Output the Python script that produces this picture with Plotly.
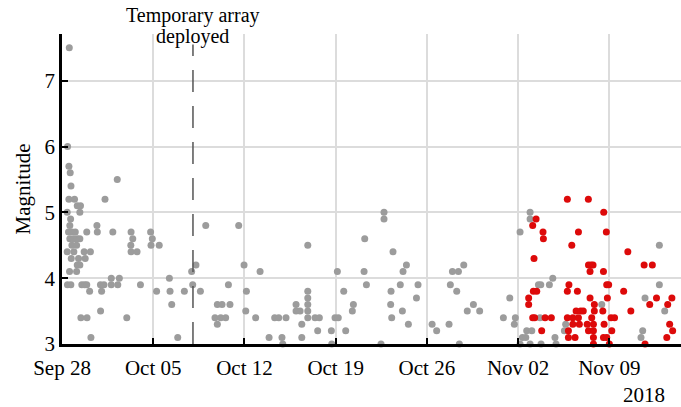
import pandas as pd
import plotly.graph_objects as go

# Day offsets since 2018-09-28 00:00 and magnitudes
base_date = "2018-09-28"
deploy_day = 10.05

gray_days = [
    0.56, 0.43, 0.53, 0.63, 0.69, 4.24,
    0.53, 0.96, 3.3, 1.17, 1.42, 0.4, 1.37, 0.66, 0.6, 2.68,
    0.5, 0.76, 1.02, 1.9, 2.71, 3.9, 5.3, 6.8,
    0.6, 0.91, 1.17, 1.37, 5.43, 6.93,
    0.76, 1.12, 5.28, 6.83, 7.46,
    0.4, 0.91, 1.7, 2.18, 5.3, 5.76,
    0.71, 1.27, 1.78, 1.17, 1.37, 0.58, 1.12, 3.78, 4.4,
    0.42, 0.68, 1.52, 1.73, 1.9, 2.95, 3.22, 3.78, 4.28, 6.02,
    2.12, 3.04, 7.26, 2.96, 1.45, 1.92, 4.97, 2.22,
    8.24, 8.29, 9.39, 8.42, 8.88, 9.95, 10.28, 10.03, 10.62, 11.03,
    13.56, 13.97, 15.2, 12.77, 14.15, 11.92, 12.28, 12.89, 14.1,
    11.74, 12.18, 12.56, 11.92, 14.86, 16.32, 16.63, 17.19,
    15.89, 16.88, 16.94, 17.96, 17.96, 18.27,
    18.86, 18.86, 18.86, 18.86, 18.86, 18.86, 18.4, 18.4,
    19.42, 19.75, 19.62, 20.67, 20.7, 20.95, 21.2, 21.13, 21.62, 21.77,
    22.28, 22.36, 23.23, 23.18, 23.36, 24.48, 24.71, 24.71,
    25.4, 25.25, 25.22, 25.3, 25.96, 26.12, 26.17, 26.43, 26.58,
    27.2, 27.32, 28.4, 28.75, 29.7, 29.8,
    29.96, 30.42, 30.29, 30.83, 30.49, 31.1, 31.57, 32.05,
    33.87, 34.36, 34.79, 34.71, 35.15, 35.15, 35.33, 35.59, 35.66, 36.05,
    35.92, 35.92, 35.92, 36.56, 36.74, 36.68, 36.76, 37.4, 37.66, 37.83, 37.91,
    38.65, 38.55, 41.42,
    45.84, 45.84, 44.74, 46.25, 44.56, 44.43,
]
gray_mag = [
    7.5, 6.0, 5.7, 5.6, 5.4, 5.5,
    5.2, 5.2, 5.2, 5.1, 5.1, 5.0, 5.0, 4.9, 4.8, 4.8,
    4.7, 4.7, 4.7, 4.7, 4.7, 4.7, 4.7, 4.7,
    4.6, 4.6, 4.6, 4.6, 4.6, 4.6,
    4.5, 4.5, 4.5, 4.5, 4.5,
    4.4, 4.4, 4.4, 4.4, 4.4, 4.4,
    4.3, 4.3, 4.3, 4.2, 4.2, 4.1, 4.1, 4.0, 4.0,
    3.9, 3.9, 3.9, 3.9, 3.9, 3.9, 3.9, 3.9, 3.9, 3.9,
    3.8, 3.8, 3.8, 3.5, 3.4, 3.4, 3.4, 3.1,
    4.0, 3.8, 3.8, 3.6, 3.1, 4.1, 4.2, 3.9, 3.8, 4.8,
    4.8, 4.2, 4.1, 3.9, 3.8, 3.6, 3.6, 3.6, 3.5,
    3.4, 3.4, 3.4, 3.3, 3.4, 3.4, 3.4, 3.4,
    3.1, 3.1, 3.0, 3.6, 3.5, 3.5,
    4.5, 3.8, 3.7, 3.6, 3.5, 3.4, 3.3, 3.1,
    3.4, 3.4, 3.2, 3.2, 3.0, 3.4, 3.4, 4.1, 3.8, 3.2,
    3.5, 3.6, 4.6, 4.1, 3.9, 3.0, 5.0, 4.9,
    4.4, 3.8, 3.6, 3.4, 3.9, 3.5, 4.1, 4.2, 3.3,
    3.7, 3.9, 3.3, 3.2, 3.3, 3.9,
    4.1, 4.1, 3.8, 4.2, 3.0, 3.5, 3.6, 3.5,
    3.4, 3.7, 3.4, 3.3, 4.7, 3.0, 3.1, 3.1, 3.2, 3.2,
    3.0, 5.0, 4.9, 3.9, 3.9, 3.4, 3.0, 3.9, 4.0, 3.1, 3.0,
    3.3, 3.2, 3.6,
    4.5, 3.9, 3.7, 3.5, 3.2, 3.1,
]

red_days = [
    36.38, 36.12, 36.91, 36.94, 36.22, 36.17, 36.43, 35.81, 35.81,
    36.12, 36.27, 37.07, 37.55, 36.81,
    38.78, 40.39, 41.57, 39.63, 41.77, 39.12, 43.42, 44.67, 45.3,
    40.4, 40.6, 40.75, 40.52, 41.55,
    38.9, 41.8, 41.95, 38.78, 39.55, 43.1, 40.52, 41.85, 40.85,
    39.45, 39.8, 40.0, 40.85, 41.5,
    38.78, 39.2, 39.63, 40.65, 42.13, 42.4,
    39.2, 39.7, 40.3, 40.78, 41.6,
    38.86, 40.4, 40.78, 42.19,
    38.86, 39.37, 40.78, 41.55, 41.8,
    40.78, 42.0,
    45.62, 46.8, 45.1, 46.48, 43.65, 46.63, 46.86, 46.41, 44.74,
]
red_mag = [
    4.9, 4.8, 4.7, 4.6, 4.3, 3.8, 3.8, 3.7, 3.6,
    3.4, 3.4, 3.4, 3.4, 3.2,
    5.2, 5.2, 5.0, 4.7, 4.7, 4.5, 4.4, 4.2, 4.2,
    4.2, 4.2, 4.2, 4.1, 4.1,
    3.9, 3.9, 3.9, 3.8, 3.8, 3.8, 3.7, 3.7, 3.6,
    3.5, 3.5, 3.5, 3.5, 3.5,
    3.4, 3.4, 3.4, 3.4, 3.4, 3.4,
    3.3, 3.3, 3.3, 3.3, 3.3,
    3.2, 3.2, 3.2, 3.2,
    3.1, 3.1, 3.1, 3.1, 3.1,
    3.0, 3.0,
    3.7, 3.7, 3.6, 3.6, 3.5, 3.3, 3.2, 3.1, 3.0,
]

t0 = pd.Timestamp(base_date)
to_time = lambda d: [t0 + pd.to_timedelta(v, unit="D") for v in d]

FONT = "Liberation Serif"

fig = go.Figure()
fig.add_trace(go.Scatter(x=to_time(gray_days), y=gray_mag, mode="markers",
                         marker=dict(color="#9c9c9c", size=7, line=dict(width=0)),
                         cliponaxis=False, showlegend=False))
fig.add_trace(go.Scatter(x=to_time(red_days), y=red_mag, mode="markers",
                         marker=dict(color="#dd0a0a", size=7, line=dict(width=0)),
                         cliponaxis=False, showlegend=False))

deploy_t = t0 + pd.to_timedelta(deploy_day, unit="D")
fig.add_shape(type="line", x0=deploy_t, x1=deploy_t, y0=3, y1=7.55,
              xref="x", yref="y",
              line=dict(color="#555555", width=1.5, dash="22px,14px"))

fig.add_annotation(x=deploy_t, y=1.0, xref="x", yref="paper",
                   text="Temporary array", showarrow=False,
                   font=dict(family=FONT, size=20, color="black"),
                   xanchor="center", yanchor="middle", yshift=18.5,
                   borderpad=0)
fig.add_annotation(x=deploy_t, y=1.0, xref="x", yref="paper",
                   text="deployed", showarrow=False,
                   font=dict(family=FONT, size=20, color="black"),
                   xanchor="center", yanchor="middle", yshift=-2.5,
                   borderpad=0)
fig.add_annotation(x=0.94, y=-0.166, xref="paper", yref="paper",
                   text="2018", showarrow=False,
                   font=dict(family=FONT, size=21, color="black"),
                   xanchor="center", yanchor="middle")

fig.update_layout(
    width=681, height=407,
    margin=dict(l=62, r=0, t=34, b=63),
    paper_bgcolor="white", plot_bgcolor="white",
    font=dict(family=FONT, size=21, color="black"),
    xaxis=dict(
        range=[t0, t0 + pd.to_timedelta(47.5, unit="D")],
        tick0=base_date, dtick=7 * 86400000, tickformat="%b %d",
        ticks="inside", ticklen=6, tickwidth=2, tickcolor="black",
        showline=True, linecolor="black", linewidth=2.5,
        showgrid=True, gridcolor="#dcdcdc", gridwidth=1.5,
        zeroline=False, automargin=False, ticklabelstandoff=3,
        tickfont=dict(family=FONT, size=21),
    ),
    yaxis=dict(
        range=[3, 7.71], dtick=1, tick0=3,
        ticks="inside", ticklen=6, tickwidth=2, tickcolor="black",
        showline=True, linecolor="black", linewidth=2.5,
        showgrid=True, gridcolor="#dcdcdc", gridwidth=1.5,
        zeroline=False, automargin=False,
        title=dict(text="Magnitude", font=dict(family=FONT, size=21), standoff=9),
        tickfont=dict(family=FONT, size=21),
    ),
)

# remove the browser's default 8px body margin so the figure fills the window
fig.write_html("out.html", config={"displayModeBar": False},
               post_script="document.body.style.margin='0';")
